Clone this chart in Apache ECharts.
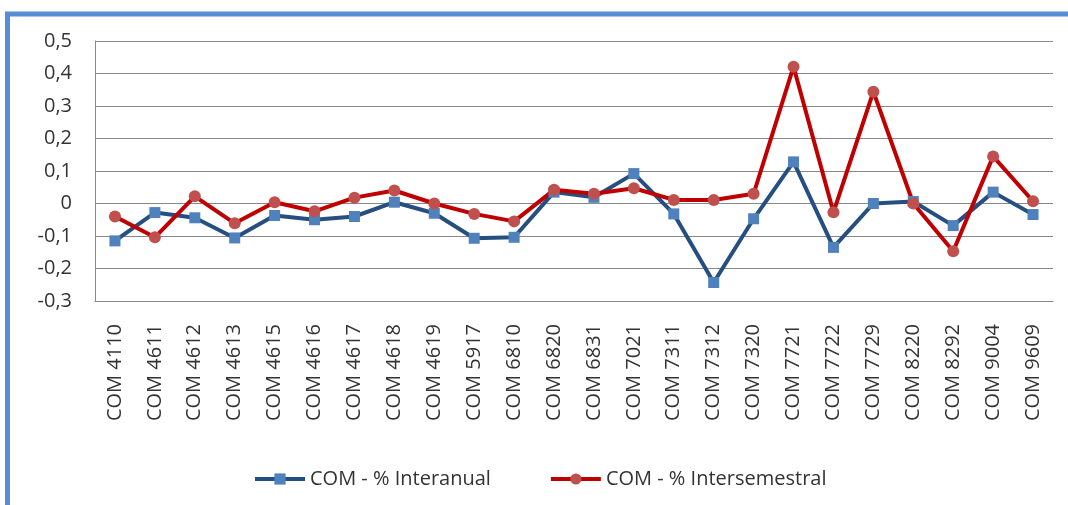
<!DOCTYPE html>
<html>
<head>
<meta charset="utf-8">
<script src="https://cdn.jsdelivr.net/npm/echarts@6/dist/echarts.min.js"></script>
<style>
  html, body { margin: 0; padding: 0; background: #fff; }
  #chart { width: 1068px; height: 505px; }
</style>
</head>
<body>
<div id="chart"></div>
<script>
// categorias (eje X)
var categorias = ['COM 4110', 'COM 4611', 'COM 4612', 'COM 4613', 'COM 4615', 'COM 4616',
  'COM 4617', 'COM 4618', 'COM 4619', 'COM 5917', 'COM 6810', 'COM 6820', 'COM 6831',
  'COM 7021', 'COM 7311', 'COM 7312', 'COM 7320', 'COM 7721', 'COM 7722', 'COM 7729',
  'COM 8220', 'COM 8292', 'COM 9004', 'COM 9609'];
// COM - % Interanual
var interanual = [-0.115, -0.028, -0.044, -0.106, -0.037, -0.05, -0.04, 0.004, -0.03, -0.107,
  -0.104, 0.035, 0.019, 0.092, -0.032, -0.243, -0.047, 0.128, -0.135, 0.0, 0.006, -0.068, 0.035, -0.034];
// COM - % Intersemestral
var intersemestral = [-0.04, -0.104, 0.022, -0.061, 0.004, -0.024, 0.018, 0.04, 0.0, -0.032,
  -0.055, 0.042, 0.03, 0.047, 0.011, 0.011, 0.03, 0.421, -0.027, 0.344, 0.0, -0.147, 0.145, 0.007];
// eje Y
var yMin = -0.3, yMax = 0.5, yPaso = 0.1;

var fuente = '"Open Sans", "Liberation Sans", sans-serif';
var myChart = echarts.init(document.getElementById('chart'));

var option = {
  backgroundColor: '#fff',
  animation: false,
  textStyle: { fontFamily: fuente },
  graphic: [{
    type: 'rect',
    shape: { x: 7.5, y: 14, width: 1200, height: 700 },
    style: { fill: 'none', stroke: '#558ED5', lineWidth: 5 },
    silent: true
  }],
  grid: { left: 95, right: 15, top: 41, bottom: 204 },
  legend: {
    left: 253,
    top: 469,
    padding: 0,
    itemWidth: 50,
    itemHeight: 14,
    itemGap: 58,
    lineStyle: { width: 4 },
    textStyle: { fontFamily: fuente, fontSize: 20, color: '#333' },
    data: ['COM - % Interanual', 'COM - % Intersemestral']
  },
  xAxis: {
    type: 'category',
    data: categorias,
    boundaryGap: true,
    axisLine: { onZero: false, lineStyle: { color: '#888', width: 1 } },
    axisTick: { show: false },
    axisLabel: {
      rotate: 90,
      interval: 0,
      margin: 23,
      fontFamily: fuente,
      fontSize: 20,
      color: '#333'
    }
  },
  yAxis: {
    type: 'value',
    min: yMin,
    max: yMax,
    interval: yPaso,
    axisLine: { show: true, lineStyle: { color: '#888', width: 1 } },
    axisTick: { show: false },
    splitLine: { lineStyle: { color: '#888', width: 1 } },
    axisLabel: {
      margin: 23,
      fontFamily: fuente,
      fontSize: 20,
      color: '#333',
      formatter: function (v) {
        if (Math.abs(v) < 1e-9) return '0';
        return v.toFixed(1).replace('.', ',');
      }
    }
  },
  series: [
    {
      name: 'COM - % Interanual',
      type: 'line',
      data: interanual,
      symbol: 'rect',
      symbolSize: 11,
      lineStyle: { color: '#254F80', width: 4 },
      itemStyle: { color: '#4F81BD', borderWidth: 0 }
    },
    {
      name: 'COM - % Intersemestral',
      type: 'line',
      data: intersemestral,
      symbol: 'circle',
      symbolSize: 12,
      lineStyle: { color: '#C00000', width: 4 },
      itemStyle: { color: '#C0504D', borderWidth: 0 }
    }
  ]
};

myChart.setOption(option);
</script>
</body>
</html>
